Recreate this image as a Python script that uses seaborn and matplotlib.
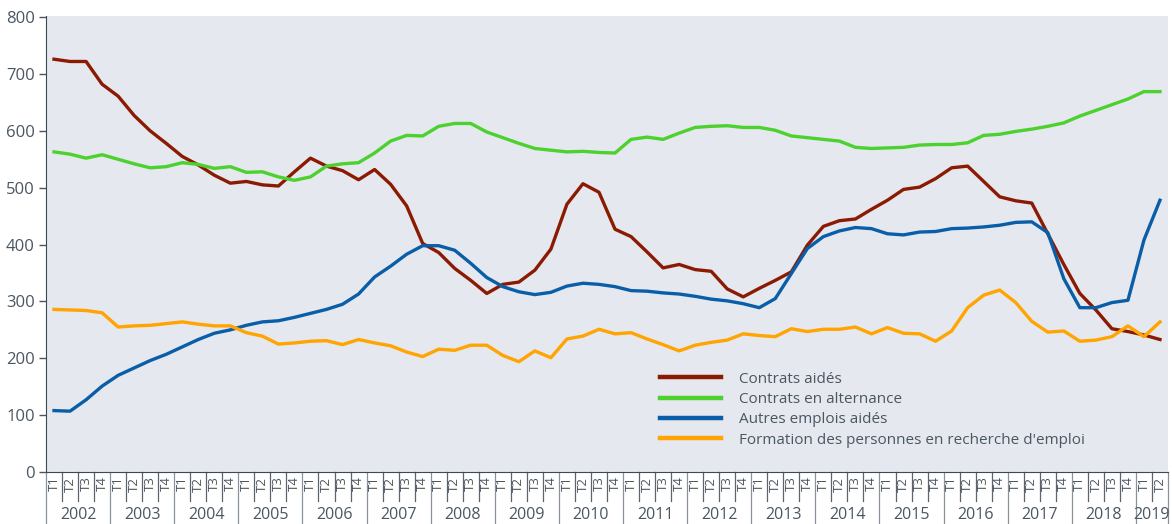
import pandas as pd
import matplotlib
matplotlib.use('Agg')
import matplotlib.pyplot as plt
import seaborn as sns
import numpy as np

# quarterly data, 2002 T1 -> 2019 T2 (thousands)
years = [str(y) for y in range(2002, 2020)]
quarters = ['T1', 'T2', 'T3', 'T4']

contrats_aides = [726, 722, 722, 682, 661, 627, 600, 578, 555, 540, 522, 508,
                  511, 505, 503, 528, 552, 538, 530, 514, 532, 506, 468, 402,
                  386, 358, 337, 314, 330, 334, 355, 392, 471, 507, 492, 427,
                  414, 387, 359, 365, 356, 353, 322, 308, 323, 337, 352, 399,
                  432, 442, 445, 462, 478, 497, 501, 516, 535, 538, 511, 484,
                  477, 473, 419, 365, 314, 285, 252, 247, 241, 233]
contrats_alternance = [563, 559, 552, 558, 550, 542, 535, 537, 544, 541, 534, 537,
                       527, 528, 519, 513, 519, 538, 542, 544, 561, 582, 592, 591,
                       608, 613, 613, 598, 588, 578, 569, 566, 563, 564, 562, 561,
                       585, 589, 585, 596, 606, 608, 609, 606, 606, 601, 591, 588,
                       585, 582, 571, 569, 570, 571, 575, 576, 576, 579, 592, 594,
                       599, 603, 608, 614, 626, 636, 646, 656, 669, 669]
autres_emplois = [108, 107, 127, 151, 170, 183, 196, 207, 220, 233, 244, 250,
                  258, 264, 266, 272, 279, 286, 295, 313, 343, 362, 383, 398,
                  398, 390, 367, 342, 326, 317, 312, 316, 327, 332, 330, 326,
                  319, 318, 315, 313, 309, 304, 301, 296, 289, 305, 349, 393,
                  414, 424, 430, 428, 419, 417, 422, 423, 428, 429, 431, 434,
                  439, 440, 421, 340, 289, 289, 298, 302, 408, 478]
formation = [286, 285, 284, 280, 255, 257, 258, 261, 264, 260, 257, 257,
             245, 239, 225, 227, 230, 231, 224, 233, 227, 222, 211, 203,
             216, 214, 223, 223, 205, 194, 213, 201, 234, 239, 251, 243,
             245, 234, 224, 213, 223, 228, 232, 243, 240, 238, 252, 247,
             251, 251, 255, 243, 254, 244, 243, 230, 248, 289, 311, 320,
             298, 265, 246, 248, 230, 232, 238, 257, 238, 264]

series_names = ['Contrats aidés', 'Contrats en alternance',
                'Autres emplois aidés',
                "Formation des personnes en recherche d'emploi"]
colors = ['#8b1a02', '#4cd12e', '#0a5ea8', '#ffa400']

n = len(contrats_aides)
qlabels = [quarters[i % 4] for i in range(n)]
qyears = [years[i // 4] for i in range(n)]

df = pd.DataFrame({
    'idx': np.tile(np.arange(n), 4),
    'valeur': contrats_aides + contrats_alternance + autres_emplois + formation,
    'serie': np.repeat(series_names, n),
})

text_col = '#4b5661'
plt.rcParams['font.family'] = ['Open Sans', 'DejaVu Sans']

fig = plt.figure(figsize=(11.72, 5.24), dpi=100)
ax = fig.add_axes([46 / 1172, 1 - 472 / 524, 1122 / 1172, 456 / 524])
ax.set_facecolor('#e5e8ee')

sns.lineplot(data=df, x='idx', y='valeur', hue='serie', hue_order=series_names,
             palette=dict(zip(series_names, colors)), linewidth=2.4, ax=ax)

ax.set_xlim(-0.5, n - 0.5)
ax.set_ylim(0, 802)
ax.set_yticks(range(0, 801, 100))
ax.tick_params(axis='y', labelsize=12, colors=text_col, length=5, width=1, pad=3)
ax.set_xticks([])
ax.set_xlabel('')
ax.set_ylabel('')
for s in ['top', 'right']:
    ax.spines[s].set_visible(False)
ax.spines['left'].set_color('#3d4a55')
ax.spines['bottom'].set_color('#3d4a55')

# quarter / year labels under the axis
trans = ax.get_xaxis_transform()
for i in range(n):
    ax.text(i, -0.01, qlabels[i], transform=trans, rotation=90, ha='center',
            va='top', fontsize=9.5, color=text_col)
for i in range(n + 1):
    x = i - 0.5
    long_line = (i % 4 == 0) or i == n
    y_end = -0.115 if long_line else -0.064
    c = '#8a939c' if long_line else '#5a6570'
    ax.plot([x, x], [0, y_end], transform=trans, color=c, lw=0.9, clip_on=False)
for k, y in enumerate(years):
    idxs = [i for i in range(n) if qyears[i] == y]
    if not idxs:
        continue
    xc = (idxs[0] + idxs[-1]) / 2
    ax.text(xc, -0.076, y, transform=trans, ha='center', va='top',
            fontsize=11.5, color=text_col)

leg = ax.legend(loc='upper left', bbox_to_anchor=(0.535, 0.25), frameon=False,
                fontsize=11, handlelength=4.0, handletextpad=1.2,
                labelspacing=0.35, labelcolor=text_col)
for h in leg.get_lines():
    h.set_linewidth(3.2)

fig.savefig('out.png', dpi=100)
